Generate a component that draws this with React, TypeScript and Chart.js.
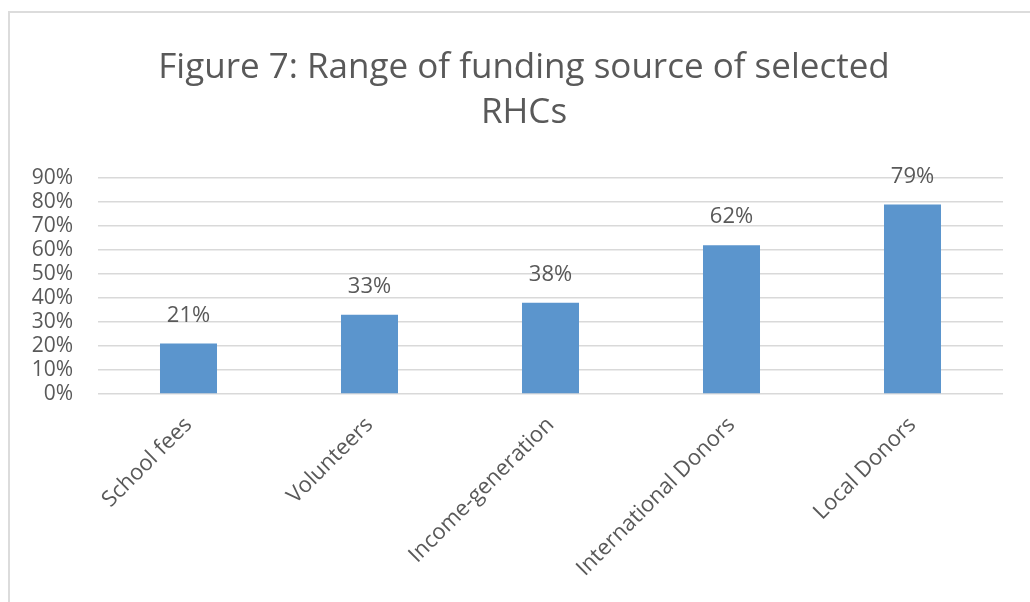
import React, { useEffect, useRef } from "react";
import { Chart, registerables } from "chart.js";

Chart.register(...registerables);

const titleLines = ["Figure 7: Range of funding source of selected", "RHCs"];
const categories = ["School fees", "Volunteers", "Income-generation", "International Donors", "Local Donors"];
const values = [21, 33, 38, 62, 79];
const yMin = 0;
const yMax = 90;
const yStep = 10;

const FONT = "'Open Sans', 'Noto Sans', sans-serif";
const TEXT = "#595959";

// title centred on the chart frame (Excel-style), drawn above the plot
const TITLE_CENTER_X = 524;
const TITLE_FIRST_LINE_Y = 68;
const TITLE_LINE_HEIGHT = 45;

const titlePlugin = {
  id: "frameTitle",
  afterDraw(chart: any) {
    const ctx = chart.ctx;
    ctx.save();
    ctx.font = `35px ${FONT}`;
    ctx.fillStyle = TEXT;
    ctx.textAlign = "center";
    ctx.textBaseline = "middle";
    titleLines.forEach((line, i) => {
      ctx.fillText(line, TITLE_CENTER_X, TITLE_FIRST_LINE_Y + i * TITLE_LINE_HEIGHT);
    });
    ctx.restore();
  },
};

const dataLabels = {
  id: "dataLabels",
  afterDatasetsDraw(chart: any) {
    const ctx = chart.ctx;
    const meta = chart.getDatasetMeta(0);
    ctx.save();
    ctx.font = `22px ${FONT}`;
    ctx.fillStyle = TEXT;
    ctx.textAlign = "center";
    ctx.textBaseline = "middle";
    meta.data.forEach((el: any, i: number) => {
      ctx.fillText(`${values[i]}%`, el.x, el.y - 28);
    });
    ctx.restore();
  },
};

export default function App() {
  const ref = useRef<HTMLCanvasElement | null>(null);
  useEffect(() => {
    if (!ref.current) return;
    const chart = new Chart(ref.current, {
      type: "bar",
      data: {
        labels: categories,
        datasets: [
          {
            data: values,
            backgroundColor: "#5B95CD",
            borderWidth: 0,
            barPercentage: 0.315,
            categoryPercentage: 1,
          },
        ],
      },
      options: {
        animation: false,
        responsive: false,
        maintainAspectRatio: false,
        layout: { padding: { left: 0, right: 27, top: 178, bottom: 0 } },
        plugins: {
          legend: { display: false },
          tooltip: { enabled: false },
          title: { display: false },
        },
        scales: {
          x: {
            grid: { display: false, drawTicks: false },
            border: { display: false },
            ticks: {
              color: TEXT,
              font: { family: FONT, size: 22 },
              maxRotation: 45,
              minRotation: 45,
              padding: 18,
              autoSkip: false,
            },
            afterFit(scale: any) {
              scale.height = 208;
            },
          },
          y: {
            min: yMin,
            max: yMax,
            grid: { color: "#d9d9d9", lineWidth: 1.5, drawTicks: false },
            border: { display: false },
            ticks: {
              stepSize: yStep,
              autoSkip: false,
              color: TEXT,
              font: { family: FONT, size: 21 },
              padding: 25,
              callback: (v: any) => `${v}%`,
            },
            afterFit(scale: any) {
              scale.width = 98;
            },
          },
        },
      },
      plugins: [dataLabels, titlePlugin],
    });
    return () => chart.destroy();
  }, []);
  return (
    <div style={{ position: "absolute", left: 0, top: 0, width: 1030, height: 602, background: "#fff" }}>
      <div
        style={{
          position: "absolute",
          left: 8,
          top: 11,
          width: 1030 - 8,
          height: 602 - 11,
          borderLeft: "2px solid #dcdcdc",
          borderTop: "2px solid #dcdcdc",
          boxSizing: "border-box",
        }}
      />
      <canvas ref={ref} width={1030} height={602} style={{ position: "absolute", left: 0, top: 0 }} />
    </div>
  );
}
